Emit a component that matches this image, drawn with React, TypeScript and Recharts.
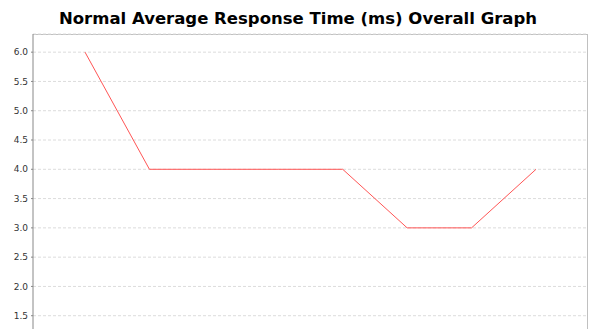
import React from 'react';
import { LineChart, Line, XAxis, YAxis, CartesianGrid } from 'recharts';

const categories = ['1', '2', '3', '4', '5', '6', '7', '8'];
const responseTimes = [6.0, 4.0, 4.0, 4.0, 4.0, 3.0, 3.0, 4.0];
const yTicks = [1.5, 2.0, 2.5, 3.0, 3.5, 4.0, 4.5, 5.0, 5.5, 6.0];

const data = categories.map((c, i) => ({ name: c, value: responseTimes[i] }));

const App: React.FC = () => {
    return (
        <div style={{ position: 'absolute', left: 0, top: 0, width: 596, height: 345, background: '#fff' }}>
            <div
                style={{
                    position: 'absolute',
                    left: 0,
                    top: 9,
                    width: 596,
                    textAlign: 'center',
                    fontFamily: 'DejaVu Sans',
                    fontWeight: 'bold',
                    fontSize: 16.5,
                    color: '#000',
                }}
            >
                Normal Average Response Time (ms) Overall Graph
            </div>
            {/* plot frame, top and right edges */}
            <div
                style={{
                    position: 'absolute',
                    left: 33,
                    top: 34,
                    width: 555,
                    height: 320,
                    borderTop: '1px solid #c0c0c0',
                    borderRight: '1px solid #c0c0c0',
                    boxSizing: 'border-box',
                    pointerEvents: 'none',
                }}
            />
            <LineChart width={596} height={345} data={data} margin={{ top: 34, right: 8, left: 0, bottom: 0 }}>
                <CartesianGrid vertical={false} strokeDasharray="3 2" stroke="#dcdcdc" />
                <XAxis dataKey="name" hide padding={{ left: 52, right: 52 }} />
                <YAxis
                    domain={[1.0, 6.31]}
                    ticks={yTicks}
                    allowDataOverflow
                    width={33}
                    tickSize={2}
                    tickMargin={3}
                    tickFormatter={(v: number) => v.toFixed(1)}
                    tick={{ fontFamily: 'DejaVu Sans', fontSize: 9, fill: '#333' }}
                    axisLine={{ stroke: '#888' }}
                    tickLine={{ stroke: '#888' }}
                />
                <Line
                    type="linear"
                    dataKey="value"
                    stroke="#ff5555"
                    strokeWidth={1}
                    dot={false}
                    isAnimationActive={false}
                />
            </LineChart>
        </div>
    );
};

export default App;
